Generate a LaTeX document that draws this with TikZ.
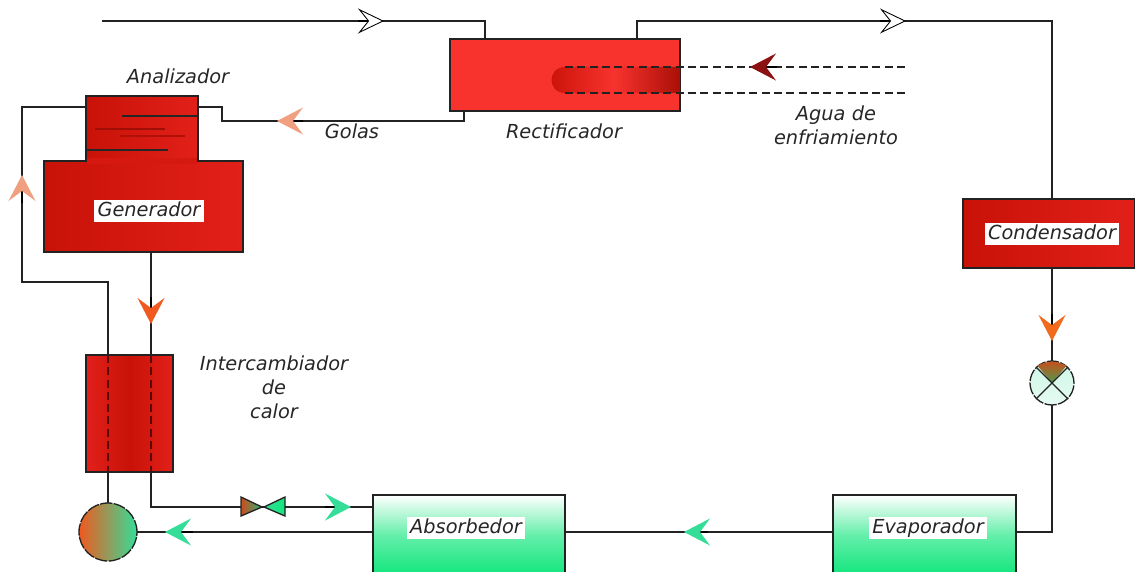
\documentclass[tikz,border=0pt]{standalone}
\usepackage{fontspec}
\setmainfont{DejaVu Sans}
\usetikzlibrary{arrows.meta}
\definecolor{pipecol}{HTML}{222222}
\definecolor{hotdark}{HTML}{C81208}
\definecolor{hotlight}{HTML}{E2201A}
\definecolor{rectcol}{HTML}{F8332E}
\definecolor{coolcol}{HTML}{12E67C}
\definecolor{salmontip}{HTML}{F0A080}
\definecolor{orangetip}{HTML}{F0591F}
\definecolor{greentip}{HTML}{34DE98}
\definecolor{winetip}{HTML}{8C1212}
\tikzset{
  pipe/.style={draw=pipecol, line width=0.75pt},
  hotbox/.style={draw=pipecol, line width=0.75pt, inner sep=0pt, left color=hotdark, right color=hotlight},
  coolbox/.style={draw=pipecol, line width=0.75pt, inner sep=0pt, top color=white, bottom color=coolcol, middle color=coolcol!65!white},
  flowarrow/.style={-{Stealth[length=5.2mm, width=5.4mm, inset=2mm, fill=#1, color=#1]}, line width=0.75pt},
  openarrow/.style={-{Stealth[length=5.2mm, width=5mm, inset=2mm, fill=white, color=black, line width=0.5pt]}, line width=0.75pt},
  relabel/.style={font=\fontsize{11}{13.6}\selectfont\itshape, align=center, inner sep=0pt, text=black!85},
  boxlabel/.style={relabel, fill=white, text height=9pt, text depth=3pt, inner xsep=2pt},
  innerline/.style={draw=#1, line width=0.75pt},
  tubeline/.style={draw=pipecol, line width=0.75pt, dash pattern=on 4.5pt off 2.5pt},
  ringline/.style={draw=pipecol, line width=0.75pt, dash pattern=on 7pt off 0.8pt}
}
\begin{document}
\begin{tikzpicture}[x=0.02cm, y=-0.02cm]
  \useasboundingbox (0,0) rectangle (1135,571);

  \coordinate (feed) at (102,21);
  \coordinate (feedtop) at (485,21);
  \coordinate (recin) at (485,39);
  \coordinate (recout) at (637,39);
  \coordinate (rectop) at (637,21);
  \coordinate (concorner) at (1052,21);
  \coordinate (refluxout) at (464,111);
  \coordinate (refluxa) at (464,121);
  \coordinate (refluxb) at (222,121);
  \coordinate (refluxc) at (222,107);
  \coordinate (refluxin) at (198,107);
  \coordinate (anaout) at (86,107);
  \coordinate (leftup) at (22,107);
  \coordinate (leftdown) at (22,282);
  \coordinate (pumpline) at (108,282);
  \coordinate (genout) at (151,252);
  \coordinate (exAtop) at (108,355);
  \coordinate (exAbot) at (108,472);
  \coordinate (exBtop) at (151,355);
  \coordinate (exBbot) at (151,472);
  \coordinate (bcorner) at (151,507);
  \coordinate (valvel) at (241,507);
  \coordinate (valver) at (285,507);
  \coordinate (absin) at (373,507);
  \coordinate (absout) at (373,532);
  \coordinate (absright) at (565,532);
  \coordinate (evapleft) at (833,532);
  \coordinate (evapright) at (1016,532);
  \coordinate (evapcorner) at (1052,532);

  % pipes go first so that the boxes cover them
  \draw[pipe] (feed) -- (feedtop) -- (recin);
  \draw[pipe] (recout) -- (rectop) -- (concorner) -- (1052,199);
  \draw[pipe] (refluxout) -- (refluxa) -- (refluxb) -- (refluxc) -- (refluxin);
  \draw[pipe] (anaout) -- (leftup) -- (leftdown) -- (pumpline) -- (exAtop);
  \draw[pipe] (genout) -- (exBtop);
  \draw[pipe] (exBbot) -- (bcorner) -- (valvel);
  \draw[pipe] (valver) -- (absin);
  \draw[pipe] (absout) -- (137,532);
  \draw[pipe] (absright) -- (evapleft);
  \draw[pipe] (evapright) -- (evapcorner) -- (1052,404);
  \draw[pipe] (1052,268) -- (1052,361);

  \node[hotbox, minimum width=3.98cm, minimum height=1.82cm] (gen) at (143.5,206.5) {};
  \node[hotbox, minimum width=2.24cm, minimum height=1.3cm] (ana) at (142,128.5) {};
  \fill[hotdark!50!hotlight] (87,158) rectangle (197,164);
  \draw[innerline=black!85] (122,116) -- (198,116);
  \draw[innerline=black!20!hotdark] (95,129) -- (165,129);
  \draw[innerline=black!12!hotdark] (120,136) -- (185,136);
  \draw[innerline=black!85] (86,150) -- (168,150);

  \node[draw=pipecol, line width=0.75pt, inner sep=0pt, minimum width=1.74cm, minimum height=2.34cm,
        left color=hotlight, right color=hotlight, middle color=hotdark] (exch) at (129.5,413.5) {};
  \draw[tubeline, draw=black!55!hotdark] (exAtop) -- (exAbot);
  \draw[tubeline, draw=black!55!hotdark] (exBtop) -- (exBbot);
  \draw[pipe] (exAbot) -- (108,503);

  \node[draw=pipecol, line width=0.75pt, inner sep=0pt, minimum width=4.6cm, minimum height=1.44cm, fill=rectcol] (rec) at (565,75) {};
  \shade[left color=hotdark, right color=black!15!hotdark, middle color=rectcol]
    (680,67) -- (565,67) .. controls (547,67) and (547,93) .. (565,93) -- (680,93) -- cycle;
  \coordinate (tubea) at (565,67);
  \coordinate (tubeb) at (565,93);
  \coordinate (watera) at (906,67);
  \coordinate (waterb) at (906,93);
  \draw[tubeline] (tubea) -- (watera);
  \draw[tubeline] (tubeb) -- (waterb);

  \node[hotbox, minimum width=3.44cm, minimum height=1.38cm] (cond) at (1049,233.5) {};
  \node[coolbox, minimum width=3.84cm, minimum height=1.6cm] (abs) at (469,535) {};
  \node[coolbox, minimum width=3.66cm, minimum height=1.6cm] (evap) at (924.5,535) {};

  \node[circle, ringline, inner sep=0pt, minimum size=1.16cm,
        left color=orangetip, right color=greentip] (pump) at (108,532) {};

  \node[circle, ringline, inner sep=0pt, minimum size=0.88cm,
        top color=greentip!25, bottom color=greentip!12] (xvalve) at (1052,383) {};
  \shade[top color=orangetip!85!black, bottom color=green!45!black!70]
    (xvalve.center) -- (xvalve.130) to[bend left=28] (xvalve.50) -- cycle;
  \draw[pipe] (xvalve.45) -- (xvalve.225);
  \draw[pipe] (xvalve.135) -- (xvalve.315);

  \shade[left color=orangetip!85!black, right color=greentip!80!black, draw=pipecol, line width=0.75pt]
    (valvel) -- (241,497) -- (262,507) -- (241,516) -- cycle;
  \shade[left color=greentip, right color=coolcol, draw=pipecol, line width=0.75pt]
    (valver) -- (285,497) -- (264,507) -- (285,516) -- cycle;
  \draw[pipe] (262,507) -- (264,507);

  \draw[openarrow] (358,21) -- (384,21);
  \draw[openarrow] (880,21) -- (906,21);
  \draw[flowarrow=winetip] (777,67) -- (750,67);
  \draw[flowarrow=salmontip] (303,121) -- (277,121);
  \draw[flowarrow=salmontip] (22,203) -- (22,175);
  \draw[flowarrow=orangetip] (151,297) -- (151,324);
  \draw[flowarrow=orangetip!90!yellow] (1052,314) -- (1052,341);
  \draw[flowarrow=greentip] (325,507) -- (351,507);
  \draw[flowarrow=greentip] (193,532) -- (165,532);
  \draw[flowarrow=greentip] (708,532) -- (684,532);

  \node[relabel] (analabel) at (178,76) {Analizador};
  \node[relabel] (golas) at (352,131) {Golas};
  \node[relabel] (reclabel) at (564,131) {Rectificador};
  \node[relabel, text width=3.4cm] (agua) at (836,125) {Agua de\\ enfriamiento};
  \node[relabel, text width=3.6cm] (exlabel) at (274,387) {Intercambiador\\ de\\ calor};
  \node[boxlabel] (genlabel) at (149,211) {Generador};
  \node[boxlabel] (condlabel) at (1052,234) {Condensador};
  \node[boxlabel] (abslabel) at (466,528) {Absorbedor};
  \node[boxlabel] (evaplabel) at (928,528) {Evaporador};
\end{tikzpicture}
\end{document}
